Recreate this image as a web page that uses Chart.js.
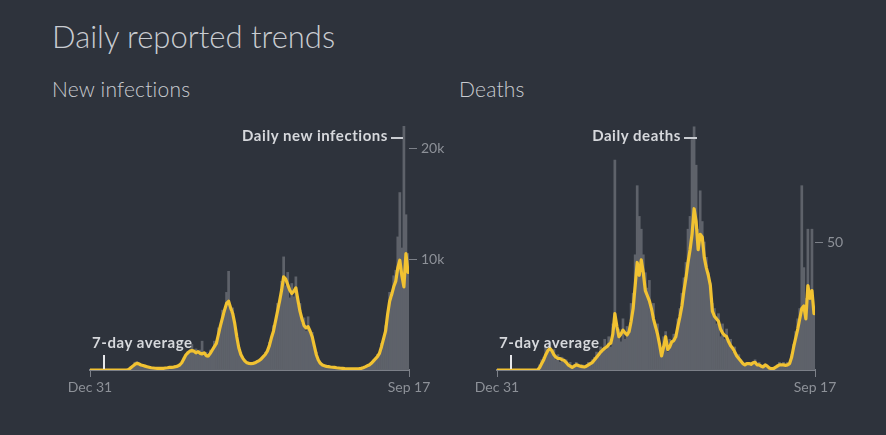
<!DOCTYPE html>
<html>
<head>
<meta charset="utf-8">
<script src="https://cdn.jsdelivr.net/npm/chart.js@4.4.1/dist/chart.umd.min.js"></script>
<style>
  html,body{margin:0;padding:0;background:#2e333c;}
  body{width:886px;height:435px;position:relative;overflow:hidden;font-family:"Lato","Open Sans",sans-serif;}
  .t{position:absolute;white-space:nowrap;color:#c9ccd1;}
  #title{left:52px;top:17px;font-size:31px;font-weight:300;}
  .sub{top:76px;font-size:21px;font-weight:300;letter-spacing:0.2px;}
  .ann{font-size:15px;font-weight:700;color:#d6d8dc;letter-spacing:0.55px;}
  .hl{position:absolute;height:2px;background:#c9ccd1;}
  .vl{position:absolute;width:2px;background:#e6e7ea;}
  canvas{position:absolute;}
</style>
</head>
<body>
<div id="title" class="t">Daily reported trends</div>
<div class="t sub" style="left:52px">New infections</div>
<div class="t sub" style="left:459px">Deaths</div>

<canvas id="c1" width="409" height="300" style="left:40px;top:100px"></canvas>
<canvas id="c2" width="398" height="300" style="left:457px;top:100px"></canvas>

<div class="t ann" style="right:498px;top:126px">Daily new infections</div>
<div class="hl" style="left:391px;top:137px;width:12px"></div>
<div class="t ann" style="left:92px;top:333px">7-day average</div>
<div class="vl" style="left:103px;top:355px;height:14px"></div>

<div class="t ann" style="right:205px;top:126px">Daily deaths</div>
<div class="hl" style="left:684px;top:137px;width:13px"></div>
<div class="t ann" style="left:499px;top:333px">7-day average</div>
<div class="vl" style="left:510px;top:355px;height:14px"></div>

<script>
// Day index of each sample (every 4 days from Dec 31)
const STEP = 4;
const xTickDays = [0, 626];
const xTickLabels = ['Dec 31', 'Sep 17'];
const infTicks = [10000, 20000];
const deathTicks = [50];

// New infections: daily counts (bars) and 7-day average (line)
const infBars = [
  0,0,0,0,0,0,0,0,0,0,
  0,0,0,0,0,0,0,0,0,90,
  260,420,700,760,520,480,380,400,280,300,
  180,210,150,170,140,160,180,160,240,200,
  270,250,340,330,500,600,1100,1250,1650,1500,
  2300,1500,1900,1400,1800,2600,1300,1600,1100,1800,
  1600,2600,2200,3800,3600,5400,5000,7000,8900,5200,
  5600,3800,3300,1800,1600,950,900,600,700,520,
  680,600,850,780,1100,1100,1600,1500,2500,2700,
  4000,4100,6000,5800,8000,10200,7600,8800,6500,7800,
  6600,8400,5800,6000,4200,4700,3500,4800,3200,3400,
  2000,1600,800,700,400,450,300,350,240,280,
  210,230,160,180,130,140,100,120,90,110,
  100,120,110,170,190,320,350,520,560,900,
  950,1400,1600,2400,2600,4000,4800,7000,6500,8500,
  9000,12000,16000,11000,22000,14000,10500
];
const infAvg = [
  0,0,0,0,0,0,0,0,0,0,
  0,0,0,0,0,0,0,0,0,50,
  200,350,500,600,550,450,400,350,300,250,
  200,180,160,150,150,150,150,180,200,230,
  230,260,300,350,450,650,1000,1350,1550,1700,
  1750,1700,1550,1650,1500,1450,1550,1300,1250,1500,
  1800,2100,2400,3200,4000,4700,5400,6000,6200,5600,
  5100,4200,3000,2000,1400,1050,800,650,600,580,
  600,650,750,850,1000,1200,1400,1700,2200,2900,
  3500,4400,5300,6200,7200,8400,8200,7700,7200,6900,
  7100,7400,6300,5300,4600,4000,3800,3900,3500,3000,
  2200,1400,900,600,450,380,330,300,270,250,
  230,200,180,160,140,120,110,100,100,100,
  100,110,120,150,200,280,380,450,600,800,
  1000,1200,1500,2100,2800,3500,5000,6200,6800,7500,
  8000,9200,9900,8500,7500,10500,8800
];

// Deaths: daily counts (bars) and 7-day average (line)
const deathBars = [
  0,0,0,0,0,0,0,0,0,0,
  0,0,0,0,0,0,0,0,0,0,
  0,2,4,5,9,8,11,7,8,4,
  6,3,5,4,4,2,3,1,2,3,
  2,1,2,1,2,3,2,4,5,7,
  5,9,7,12,8,13,9,18,82,15,
  16,11,20,12,17,14,26,30,45,72,
  60,55,45,38,32,35,22,26,15,18,
  9,6,13,15,7,12,10,14,12,20,
  24,30,36,42,55,60,90,95,80,55,
  70,58,50,44,38,34,26,24,18,22,
  13,18,12,16,10,12,7,9,5,6,
  4,3,2,3,2,3,3,4,2,3,
  1,2,2,1,1,0,1,1,2,3,
  2,3,1,3,2,6,10,15,20,24,
  72,40,28,55,30,55,25
];
const deathAvg = [
  0,0,0,0,0,0,0,0,0,0,
  0,0,0,0,0,0,0,0,0,0,
  0,1,2.5,4,6,7.5,8.5,7.5,6,5,
  4.5,4.5,4,3.8,3,2,1.5,1,1.5,2,
  1.8,1.5,1.3,1.2,1.5,2,2.5,3,4,5,
  6,7,7.8,8.5,9,10,10.5,14,22,17,
  13,14,15.6,14.5,13.7,15,19,24,33,42,
  37,43,38,31,29,27,24,20,17,14,
  10,5.5,9,13,8,9,11,11.5,13,17,
  20.7,25,31,36,42,47,53,63,58,47,
  53,52,44,40,37,33,23,21,20,19,
  16,14.5,13.5,13,11,9.5,8.5,7,5.5,4.5,
  3.5,2.5,2,2.5,2.5,2.2,2.8,3,2,2,
  1.5,1.2,2,1.5,0.8,0.5,0.5,1,1.5,2,
  2,2,1.8,2,2.5,5,9,12.5,16,20,
  24,25,20,33,28,31,22
];

const AXIS = '#7c8088';
const TICKTXT = '#8d9198';
const BAR = '#5e626a';
const LINE = '#f1c232';
const tickFont = {family: 'Lato, "Open Sans", sans-serif', size: 14};

function toPts(arr) { return arr.map((v, i) => ({x: i * STEP, y: v})); }

function makeChart(id, bars, avg, yMax, yTicks, yFmt, padTop, padLeft) {
  return new Chart(document.getElementById(id), {
    data: {
      datasets: [
        {type: 'line', data: toPts(avg), borderColor: LINE, borderWidth: 3.2, pointRadius: 0,
         tension: 0, order: 0, borderJoinStyle: 'round', borderCapStyle: 'round'},
        {type: 'bar', data: toPts(bars), backgroundColor: BAR, barPercentage: 1,
         categoryPercentage: 1, borderWidth: 0, order: 1}
      ]
    },
    options: {
      responsive: false, animation: false, events: [],
      layout: {padding: {top: padTop, left: padLeft, right: 0, bottom: 0}},
      plugins: {legend: {display: false}, tooltip: {enabled: false}},
      scales: {
        x: {
          type: 'linear', min: 0, max: 626, offset: false,
          afterBuildTicks: s => { s.ticks = xTickDays.map(v => ({value: v})); },
          afterFit: s => { s.height = 30; },
          ticks: {callback: (v, i) => xTickLabels[i], color: TICKTXT, font: tickFont,
                  padding: 2, autoSkip: false, maxRotation: 0},
          grid: {drawOnChartArea: false, drawTicks: true, tickLength: 7, color: AXIS, offset: false},
          border: {display: true, color: AXIS, width: 2}
        },
        y: {
          position: 'right', min: 0, max: yMax,
          afterBuildTicks: s => { s.ticks = yTicks.map(v => ({value: v})); },
          afterFit: s => { s.width = 40; },
          ticks: {callback: yFmt, color: TICKTXT, font: tickFont, padding: 4},
          grid: {drawOnChartArea: false, drawTicks: true, tickLength: 8, color: AXIS},
          border: {display: false}
        }
      }
    }
  });
}

makeChart('c1', infBars, infAvg, 22000, infTicks, v => (v / 1000) + 'k', 26, 50);
makeChart('c2', deathBars, deathAvg, 100, deathTicks, v => String(v), 14, 40);
</script>
</body>
</html>
